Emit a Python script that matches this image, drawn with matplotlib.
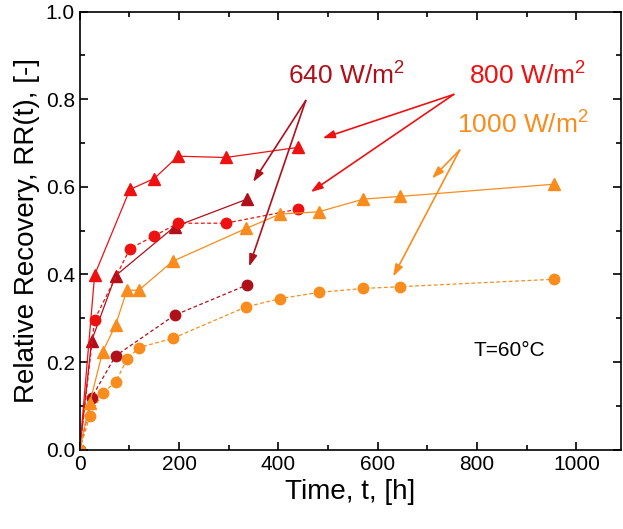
import matplotlib.pyplot as plt
from matplotlib.ticker import MultipleLocator

# 640 W/m2
t640 = [0, 24, 72, 191, 337]
rr640_tri = [0, 0.249, 0.397, 0.509, 0.572]
rr640_dot = [0, 0.119, 0.214, 0.307, 0.376]

# 800 W/m2
t800 = [0, 30, 101, 150, 198, 294, 439]
rr800_tri = [0, 0.399, 0.594, 0.619, 0.670, 0.667, 0.690]
rr800_dot = [0, 0.297, 0.459, 0.488, 0.517, 0.517, 0.549]

# 1000 W/m2
t1000 = [0, 20, 46, 72, 95, 119, 187, 335, 404, 481, 571, 644, 955]
rr1000_tri = [0, 0.106, 0.223, 0.284, 0.364, 0.364, 0.430, 0.505, 0.538, 0.543, 0.572, 0.578, 0.606]
rr1000_dot = [0, 0.076, 0.129, 0.154, 0.206, 0.233, 0.254, 0.326, 0.345, 0.359, 0.368, 0.372, 0.389]

c640 = '#b0101a'
c800 = '#ee1111'
c1000 = '#f98c1c'

plt.rcParams['font.family'] = ['Liberation Sans', 'DejaVu Sans']
plt.rcParams['mathtext.fontset'] = 'custom'
plt.rcParams['mathtext.rm'] = 'Liberation Sans'

fig = plt.figure(figsize=(6.23, 5.29), dpi=100)
ax = fig.add_axes([0.128, 0.150, 0.869, 0.828])

for t, tri, dot, c in [(t640, rr640_tri, rr640_dot, c640),
                       (t800, rr800_tri, rr800_dot, c800),
                       (t1000, rr1000_tri, rr1000_dot, c1000)]:
    ax.plot(t, tri, '-', color=c, lw=0.9, marker='^', ms=9, mec=c, mfc=c)
    ax.plot(t, dot, '--', color=c, lw=0.9, marker='o', ms=7.5, mec=c, mfc=c, dashes=(3, 2))

# arrows pointing from labels to curves
arr = dict(arrowstyle='-|>,head_length=0.6,head_width=0.2', lw=1.2, mutation_scale=12, shrinkA=0, shrinkB=0)
for end in [(349, 0.611), (341, 0.418)]:
    ax.annotate('', xy=end, xytext=(455, 0.797), arrowprops=dict(arr, color=c640))
for end in [(489, 0.711), (465, 0.588)]:
    ax.annotate('', xy=end, xytext=(753, 0.811), arrowprops=dict(arr, color=c800))
for end in [(709, 0.619), (631, 0.395)]:
    ax.annotate('', xy=end, xytext=(765, 0.684), arrowprops=dict(arr, color=c1000))

ax.text(537, 0.856, r'640 W/m$^\mathregular{2}$', color=c640, fontsize=19, ha='center', va='center')
ax.text(901, 0.856, r'800 W/m$^\mathregular{2}$', color=c800, fontsize=19, ha='center', va='center')
ax.text(893, 0.744, r'1000 W/m$^\mathregular{2}$', color=c1000, fontsize=19, ha='center', va='center')
ax.text(864, 0.226, 'T=60°C', color='black', fontsize=15, ha='center', va='center')

ax.set_xlim(0, 1090)
ax.set_ylim(0, 1.0)
ax.xaxis.set_major_locator(MultipleLocator(200))
ax.xaxis.set_minor_locator(MultipleLocator(100))
ax.yaxis.set_major_locator(MultipleLocator(0.2))
ax.yaxis.set_minor_locator(MultipleLocator(0.1))
ax.yaxis.set_major_formatter(plt.FormatStrFormatter('%.1f'))
ax.tick_params(which='both', direction='in', top=True, right=True, labelsize=15, width=1.2)
ax.tick_params(which='major', length=6)
ax.tick_params(which='minor', length=3.5)
for s in ax.spines.values():
    s.set_linewidth(1.2)

ax.set_xlabel('Time, t, [h]', fontsize=20)
ax.set_ylabel('Relative Recovery, RR(t), [-]', fontsize=20)

plt.savefig('out.png', dpi=100)
